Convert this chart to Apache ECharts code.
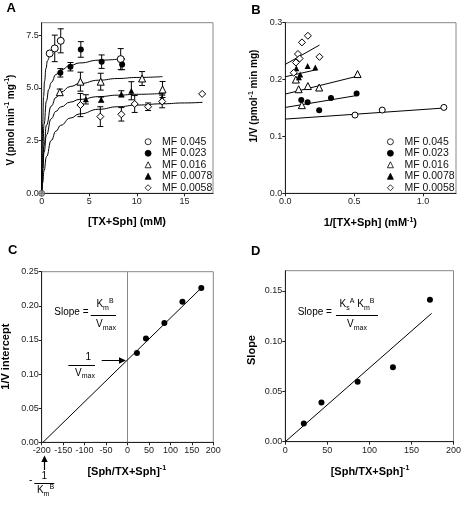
<!DOCTYPE html>
<html><head><meta charset="utf-8">
<script src="https://cdn.jsdelivr.net/npm/echarts@6/dist/echarts.min.js"></script>
<style>html,body{margin:0;padding:0;background:#fff}#c{width:464px;height:510px}</style>
</head><body><div id="c"></div>
<script>
// ---------------- DATA ----------------
const seriesNames = ['MF 0.045', 'MF 0.023', 'MF 0.016', 'MF 0.0078', 'MF 0.0058'];

// Panel A: V vs [TX+Sph] (mM), with error bars
const aX045 = [0.84, 1.37, 2.0, 8.3];
const aV045 = [6.64, 6.88, 7.24, 6.37];
const aE045 = [0, 0.63, 0.57, 0.5];
const aX023 = [1.96, 3.02, 4.11, 6.3, 8.45];
const aV023 = [5.72, 6.01, 6.83, 6.25, 6.12];
const aE023 = [0.2, 0.2, 0.37, 0.32, 0.25];
const aX016 = [1.9, 4.07, 6.2, 10.55, 12.7];
const aV016 = [4.8, 5.3, 5.3, 5.45, 4.93];
const aE016 = [0.15, 0.45, 0.4, 0.33, 0.38];
const aX0078 = [4.64, 6.25, 8.37, 9.42, 12.65];
const aV0078 = [4.46, 4.45, 4.72, 4.87, 4.5];
const aE0078 = [0.22, 0.12, 0.15, 0.43, 0.22];
const aX0058 = [4.07, 6.16, 8.37, 9.77, 11.18, 12.66, 16.86];
const aV0058 = [4.19, 3.64, 3.75, 4.24, 4.11, 4.36, 4.72];
const aE0058 = [0.55, 0.47, 0.32, 0.4, 0.18, 0.3, 0];
const aOriginX = [0];
const aOriginV = [0];

// Panel A fitted curves
const fit1X = [0, 0.05, 0.1, 0.2, 0.3, 0.45, 0.6, 0.84];
const fit1V = [0, 2.09, 3.29, 4.60, 5.32, 5.93, 6.29, 6.63];
const fit2X = [0, 0.1, 0.25, 0.5, 0.75, 1, 1.5, 2, 3, 4, 6, 8.7];
const fit2V = [0, 1.88, 3.29, 4.39, 4.94, 5.26, 5.64, 5.85, 6.07, 6.19, 6.32, 6.40];
const fit3X = [0, 0.1, 0.25, 0.5, 1, 1.5, 2, 3, 4, 6, 8, 10, 12.7];
const fit3V = [0, 1.19, 2.27, 3.24, 4.14, 4.55, 4.80, 5.07, 5.21, 5.37, 5.45, 5.50, 5.54];
const fit4X = [0, 0.1, 0.25, 0.5, 1, 1.5, 2, 3, 4, 6, 8, 10, 12.7];
const fit4V = [0, 1.02, 1.94, 2.77, 3.54, 3.89, 4.10, 4.33, 4.46, 4.59, 4.66, 4.70, 4.74];
const fit5X = [0, 0.1, 0.25, 0.5, 1, 1.5, 2, 3, 4, 6, 8, 10, 12.7, 15, 16.9];
const fit5V = [0, 0.50, 1.08, 1.74, 2.51, 2.95, 3.23, 3.57, 3.77, 3.99, 4.11, 4.19, 4.25, 4.29, 4.32];

// Panel B: 1/V vs 1/[TX+Sph]
const bX045 = [0.506, 0.704, 1.152];
const bY045 = [0.1376, 0.1464, 0.151];
const bX023 = [0.116, 0.162, 0.246, 0.332, 0.518];
const bY023 = [0.164, 0.160, 0.146, 0.1675, 0.1757];
const bX016 = [0.077, 0.097, 0.12, 0.164, 0.246, 0.525];
const bY016 = [0.200, 0.183, 0.155, 0.1886, 0.186, 0.2097];
const bX0078 = [0.080, 0.099, 0.108, 0.162, 0.218];
const bY0078 = [0.220, 0.204, 0.209, 0.2237, 0.221];
const bX0058 = [0.061, 0.077, 0.092, 0.104, 0.121, 0.164, 0.248];
const bY0058 = [0.212, 0.230, 0.245, 0.237, 0.2654, 0.277, 0.240];
// Panel B regression lines (end points)
const bLine045X = [0, 1.155];  const bLine045Y = [0.1305, 0.150];
const bLine023X = [0, 0.52];   const bLine023Y = [0.151, 0.172];
const bLine016X = [0, 0.525];  const bLine016Y = [0.1745, 0.206];
const bLine0078X = [0, 0.23];  const bLine0078Y = [0.205, 0.2175];
const bLine0058X = [0, 0.248]; const bLine0058Y = [0.2267, 0.2606];

// Panel C: 1/V intercept vs [Sph/TX+Sph]^-1
const cX = [22, 43, 86, 128, 172];
const cY = [0.131, 0.152, 0.175, 0.206, 0.226];
const cLineX = [-197, 175];
const cLineY = [0, 0.228];
const cZeroX = [0, 0];
const cZeroY = [0, 0.25];

// Panel D: slope vs [Sph/TX+Sph]^-1
const dX = [22, 43, 86, 128, 172];
const dY = [0.018, 0.039, 0.0596, 0.0739, 0.1412];
const dLineX = [0, 174];
const dLineY = [0, 0.1276];

// Tick values
const aXTicks = [0, 5, 10, 15];
const aYTicks = [0, 2.5, 5, 7.5];
const bXTicks = [0, 0.5, 1.0];
const bYTicks = [0, 0.1, 0.2, 0.3];
const cXTicks = [-200, -150, -100, -50, 0, 50, 100, 150, 200];
const cYTicks = [0, 0.05, 0.10, 0.15, 0.20, 0.25];
const dXTicks = [0, 50, 100, 150, 200];
const dYTicks = [0, 0.05, 0.10, 0.15];

// ---------------- CHART ----------------
const FF = "'Liberation Sans', Arial, Helvetica, sans-serif";
const zip = (xs, ys) => xs.map((x, i) => [x, ys[i]]);
const zip3 = (xs, ys, es) => xs.map((x, i) => [x, ys[i], es[i]]);

const symbols = [
  { symbol: 'circle', fill: '#fff', sizeA: 7, sizeB: 6 },
  { symbol: 'circle', fill: '#000', sizeA: 6, sizeB: 6 },
  { symbol: 'triangle', fill: '#fff', sizeA: 7, sizeB: 7 },
  { symbol: 'triangle', fill: '#000', sizeA: 6, sizeB: 6 },
  { symbol: 'diamond', fill: '#fff', sizeA: 7, sizeB: 7 }
];

function xAx(gi, min, max, ticks, dec) {
  return {
    type: 'value', gridIndex: gi, min: min, max: max,
    axisLine: { show: true, onZero: false, lineStyle: { color: '#222', width: 1 } },
    axisTick: { show: true, length: 3, customValues: ticks, lineStyle: { color: '#222' } },
    axisLabel: { customValues: ticks, formatter: v => dec === null ? String(Math.round(v)) : v.toFixed(dec),
      fontSize: 9, color: '#222', margin: 4, fontFamily: FF },
    splitLine: { show: false }
  };
}
function yAx(gi, min, max, ticks, dec) {
  const o = xAx(gi, min, max, ticks, dec);
  o.axisLabel.margin = 3;
  return o;
}

const grids = [
  { left: 41.7, top: 22.7, width: 171.3, height: 170.6 },
  { left: 285.3, top: 22.7, width: 170.7, height: 170.6 },
  { left: 41.7, top: 271.7, width: 171.6, height: 170.6 },
  { left: 285.3, top: 270.7, width: 170.7, height: 171 }
].map(g => Object.assign(g, { show: true, borderColor: '#888', borderWidth: 1, backgroundColor: 'transparent' }));

const series = [];
function errSeries(gi, data) {
  series.push({
    type: 'custom', xAxisIndex: gi, yAxisIndex: gi, z: 1, silent: true,
    data: data,
    renderItem: function (params, api) {
      const x = api.value(0), y = api.value(1), e = api.value(2);
      if (!e) return null;
      const t = api.coord([x, y + e]), b = api.coord([x, y - e]);
      const hw = 3, st = { stroke: '#000', lineWidth: 1 };
      return { type: 'group', children: [
        { type: 'line', shape: { x1: t[0], y1: t[1], x2: b[0], y2: b[1] }, style: st },
        { type: 'line', shape: { x1: t[0] - hw, y1: t[1], x2: t[0] + hw, y2: t[1] }, style: st },
        { type: 'line', shape: { x1: b[0] - hw, y1: b[1], x2: b[0] + hw, y2: b[1] }, style: st }
      ]};
    }
  });
}
function lineSeries(gi, name, data, color, smooth) {
  series.push({
    type: 'line', name: name, xAxisIndex: gi, yAxisIndex: gi, data: data, z: 2, silent: true,
    symbol: 'none', showSymbol: false, smooth: !!smooth, smoothMonotone: smooth ? 'x' : undefined,
    lineStyle: { color: color || '#000', width: 1 }, animation: false
  });
}
function scatterSeries(gi, name, data, sym, size, fill) {
  series.push({
    type: 'scatter', name: name, xAxisIndex: gi, yAxisIndex: gi, data: data, z: 3,
    symbol: sym, symbolSize: size,
    itemStyle: { color: fill, borderColor: '#000', borderWidth: fill === '#fff' ? 1 : 0, opacity: 1 }
  });
}

// Panel A
const aSets = [[aX045, aV045, aE045], [aX023, aV023, aE023], [aX016, aV016, aE016], [aX0078, aV0078, aE0078], [aX0058, aV0058, aE0058]];
aSets.forEach(s => errSeries(0, zip3(s[0], s[1], s[2])));
[[fit1X, fit1V], [fit2X, fit2V], [fit3X, fit3V], [fit4X, fit4V], [fit5X, fit5V]].forEach((f, i) =>
  lineSeries(0, 'fitA' + i, zip(f[0], f[1]), '#000', true));
aSets.forEach((s, i) => scatterSeries(0, seriesNames[i], zip(s[0], s[1]), symbols[i].symbol, symbols[i].sizeA, symbols[i].fill));
series.push({ type: 'scatter', name: 'origin', xAxisIndex: 0, yAxisIndex: 0, z: 3, data: zip(aOriginX, aOriginV),
  symbol: 'circle', symbolSize: 6, itemStyle: { color: '#9a9a9a', borderColor: '#555', borderWidth: 1 } });

// Panel B
const bSets = [[bX045, bY045], [bX023, bY023], [bX016, bY016], [bX0078, bY0078], [bX0058, bY0058]];
const bLines = [[bLine045X, bLine045Y], [bLine023X, bLine023Y], [bLine016X, bLine016Y], [bLine0078X, bLine0078Y], [bLine0058X, bLine0058Y]];
bLines.forEach((l, i) => lineSeries(1, 'fitB' + i, zip(l[0], l[1])));
bSets.forEach((s, i) => scatterSeries(1, seriesNames[i], zip(s[0], s[1]), symbols[i].symbol, symbols[i].sizeB, symbols[i].fill));

// Panel C
lineSeries(2, 'zeroC', zip(cZeroX, cZeroY), '#888');
lineSeries(2, 'fitC', zip(cLineX, cLineY));
scatterSeries(2, 'pointsC', zip(cX, cY), 'circle', 6, '#000');

// Panel D
lineSeries(3, 'fitD', zip(dLineX, dLineY));
scatterSeries(3, 'pointsD', zip(dX, dY), 'circle', 6, '#000');

const legendBase = {
  data: seriesNames, orient: 'vertical', itemWidth: 6, itemHeight: 6, itemGap: 0, padding: 0,
  selectedMode: false, itemStyle: { borderWidth: 0.8 },
  textStyle: { fontSize: 10.5, fontFamily: FF, color: '#111', lineHeight: 11.5, padding: [0, 0, 0, 6] }
};

// Graphic annotations
const rich = {
  bs: { fontSize: 7, fontWeight: 'bold', fontFamily: FF, verticalAlign: 'top', lineHeight: 9, fill: '#000' },
  sub: { fontSize: 7, fontFamily: FF, verticalAlign: 'bottom', lineHeight: 8, fill: '#000' },
  sup: { fontSize: 7, fontFamily: FF, verticalAlign: 'top', lineHeight: 8, fill: '#000' }
};
function txt(x, y, text, o) {
  o = o || {};
  return {
    type: 'text', x: x, y: y, rotation: o.rot || 0, silent: true,
    style: { text: text, fill: '#000', font: (o.bold ? 'bold ' : '') + (o.size || 10) + 'px ' + FF,
      fontSize: o.size || 10, fontWeight: o.bold ? 'bold' : 'normal', fontFamily: FF,
      align: o.align || 'center', verticalAlign: 'middle', lineHeight: o.lh || 14, rich: rich }
  };
}
function hline(x1, x2, y) {
  return { type: 'line', silent: true, shape: { x1: x1, y1: y, x2: x2, y2: y }, style: { stroke: '#000', lineWidth: 1 } };
}
function vline(x, y1, y2) {
  return { type: 'line', silent: true, shape: { x1: x, y1: y1, x2: x, y2: y2 }, style: { stroke: '#000', lineWidth: 1.2 } };
}
function poly(pts) {
  return { type: 'polygon', silent: true, shape: { points: pts }, style: { fill: '#000' } };
}
const B = { bold: true, size: 11 };
const graphic = [
  txt(11.3, 8.3, 'A', { bold: true, size: 13 }),
  txt(256, 10.5, 'B', { bold: true, size: 13 }),
  txt(12.8, 250.5, 'C', { bold: true, size: 13 }),
  txt(255.7, 251, 'D', { bold: true, size: 13 }),
  // axis titles
  txt(127, 222, '[TX+Sph] (mM)', B),
  txt(11, 120, 'V (pmol min{bs|-1} mg{bs|-1})', { bold: true, size: 10, rot: Math.PI / 2 }),
  txt(370.3, 223.3, '1/[TX+Sph] (mM{bs|-1})', B),
  txt(254.5, 96, '1/V (pmol{bs|-1} min mg)', { bold: true, size: 10, rot: Math.PI / 2 }),
  txt(126.7, 471.7, '[Sph/TX+Sph]{bs|-1}', B),
  txt(6.3, 356.7, '1/V intercept', Object.assign({ rot: Math.PI / 2 }, B)),
  txt(370, 471.7, '[Sph/TX+Sph]{bs|-1}', B),
  txt(252, 350, 'Slope', Object.assign({ rot: Math.PI / 2 }, B)),
  // panel C annotations
  txt(54.3, 312.5, 'Slope =', { align: 'left', size: 10 }),
  txt(105, 304.5, 'K{sub|m}{sup|B}', { size: 10 }),
  hline(90.7, 116, 315.5),
  txt(106, 324.5, 'V{sub|max}', { size: 10 }),
  txt(88.3, 357.5, '1', { size: 10 }),
  hline(68.3, 95, 365.5),
  txt(85, 373, 'V{sub|max}', { size: 10 }),
  hline(101.7, 120, 360.5),
  poly([[126, 360.5], [119, 357.3], [119, 363.7]]),
  vline(44.5, 461, 470),
  poly([[44.5, 455.5], [41.3, 462], [47.7, 462]]),
  txt(30.7, 480, '-', { size: 10 }),
  txt(44.3, 476.7, '1', { size: 10 }),
  hline(34.3, 54.3, 483.5),
  txt(45.5, 490.5, 'K{sub|m}{sup|B}', { size: 10 }),
  // panel D annotations
  txt(297.7, 312.5, 'Slope =', { align: 'left', size: 10 }),
  txt(357, 304.3, 'K{sub|s}{sup|A} K{sub|m}{sup|B}', { size: 10 }),
  hline(336, 378, 315.5),
  txt(357, 324.5, 'V{sub|max}', { size: 10 })
];

const option = {
  animation: false,
  backgroundColor: '#fff',
  textStyle: { fontFamily: FF },
  grid: grids,
  xAxis: [xAx(0, 0, 18, aXTicks, null), xAx(1, 0, 1.24, bXTicks, 1), xAx(2, -200, 200, cXTicks, null), xAx(3, 0, 200, dXTicks, null)],
  yAxis: [yAx(0, 0, 8.1, aYTicks, 1), yAx(1, 0, 0.3, bYTicks, 1), yAx(2, 0, 0.25, cYTicks, 2), yAx(3, 0, 0.17, dYTicks, 2)],
  legend: [
    Object.assign({}, legendBase, { left: 144.7, top: 136 }),
    Object.assign({}, legendBase, { left: 387, top: 136 })
  ],
  series: series,
  graphic: graphic
};
const chart = echarts.init(document.getElementById('c'), null, { renderer: 'canvas' });
chart.setOption(option);
</script></body></html>
